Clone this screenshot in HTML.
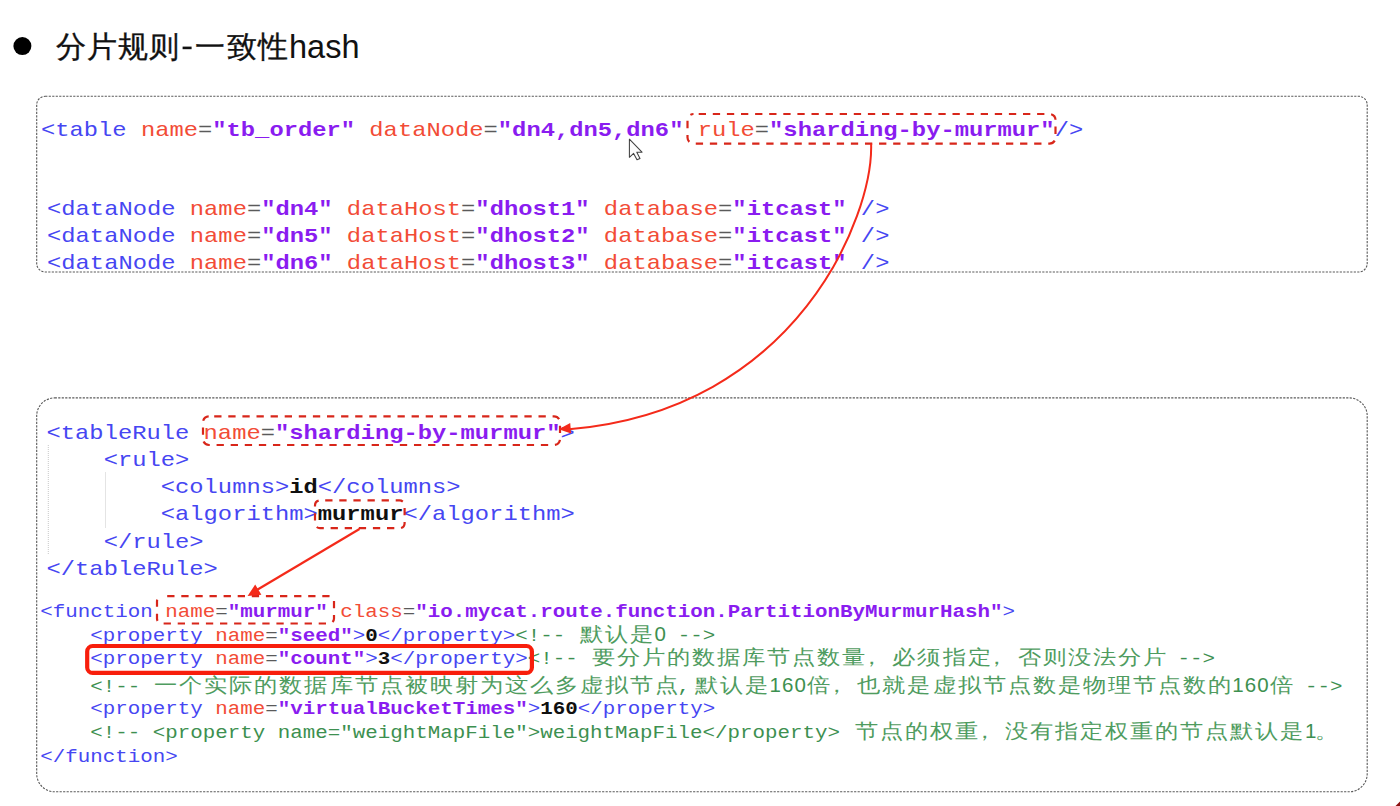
<!DOCTYPE html>
<html><head><meta charset="utf-8"><style>
html,body{margin:0;padding:0;background:#fff;width:1400px;height:806px;overflow:hidden}
svg{position:absolute;left:0;top:0}
.c1{font-family:"Liberation Mono",monospace;font-size:23.8px}
.c2{font-family:"Liberation Mono",monospace;font-size:20.85px}
.cj{font-family:"Liberation Serif",serif;font-size:23px}
.dg{font-family:"Liberation Sans",sans-serif;font-size:20.5px}
.ttl{font-family:"Liberation Sans",sans-serif;font-size:30px;fill:#111;stroke:#111;stroke-width:0.35px}
</style></head><body>
<svg width="1400" height="806" viewBox="0 0 1400 806">
<circle cx="22.4" cy="46.1" r="9" fill="#000"/>
<text class="ttl" x="56" y="57.4" style="letter-spacing:1px">分片规则</text>
<rect x="182.6" y="46.6" width="9" height="2.6" fill="#111"/>
<text class="ttl" x="195.3" y="57.4" style="letter-spacing:1.3px">一致性</text>
<text class="ttl" x="289" y="57.6" style="font-size:32.5px;stroke-width:0">hash</text>
<text class="c1" x="40.95" y="135.90" transform="matrix(1 0 0 0.850 0 20.385)" xml:space="preserve"><tspan fill="#4646f2">&lt;table</tspan><tspan fill="#f24c36"> name</tspan><tspan fill="#5a5a5a">=</tspan><tspan fill="#8a1cf0" font-weight="bold">"tb_order"</tspan><tspan fill="#f24c36"> dataNode</tspan><tspan fill="#5a5a5a">=</tspan><tspan fill="#8a1cf0" font-weight="bold">"dn4,dn5,dn6"</tspan><tspan fill="#f24c36"> rule</tspan><tspan fill="#5a5a5a">=</tspan><tspan fill="#8a1cf0" font-weight="bold">"sharding-by-murmur"</tspan><tspan fill="#4646f2">/&gt;</tspan></text>

<text class="c1" x="47.05" y="214.60" transform="matrix(1 0 0 0.850 0 32.190)" xml:space="preserve"><tspan fill="#4646f2">&lt;dataNode</tspan><tspan fill="#f24c36"> name</tspan><tspan fill="#5a5a5a">=</tspan><tspan fill="#8a1cf0" font-weight="bold">"dn4"</tspan><tspan fill="#f24c36"> dataHost</tspan><tspan fill="#5a5a5a">=</tspan><tspan fill="#8a1cf0" font-weight="bold">"dhost1"</tspan><tspan fill="#f24c36"> database</tspan><tspan fill="#5a5a5a">=</tspan><tspan fill="#8a1cf0" font-weight="bold">"itcast"</tspan><tspan fill="#4646f2"> /&gt;</tspan></text>

<text class="c1" x="47.05" y="241.90" transform="matrix(1 0 0 0.850 0 36.285)" xml:space="preserve"><tspan fill="#4646f2">&lt;dataNode</tspan><tspan fill="#f24c36"> name</tspan><tspan fill="#5a5a5a">=</tspan><tspan fill="#8a1cf0" font-weight="bold">"dn5"</tspan><tspan fill="#f24c36"> dataHost</tspan><tspan fill="#5a5a5a">=</tspan><tspan fill="#8a1cf0" font-weight="bold">"dhost2"</tspan><tspan fill="#f24c36"> database</tspan><tspan fill="#5a5a5a">=</tspan><tspan fill="#8a1cf0" font-weight="bold">"itcast"</tspan><tspan fill="#4646f2"> /&gt;</tspan></text>

<text class="c1" x="47.05" y="269.20" transform="matrix(1 0 0 0.850 0 40.380)" xml:space="preserve"><tspan fill="#4646f2">&lt;dataNode</tspan><tspan fill="#f24c36"> name</tspan><tspan fill="#5a5a5a">=</tspan><tspan fill="#8a1cf0" font-weight="bold">"dn6"</tspan><tspan fill="#f24c36"> dataHost</tspan><tspan fill="#5a5a5a">=</tspan><tspan fill="#8a1cf0" font-weight="bold">"dhost3"</tspan><tspan fill="#f24c36"> database</tspan><tspan fill="#5a5a5a">=</tspan><tspan fill="#8a1cf0" font-weight="bold">"itcast"</tspan><tspan fill="#4646f2"> /&gt;</tspan></text>

<text class="c1" x="46.55" y="438.80" transform="matrix(1 0 0 0.850 0 65.820)" xml:space="preserve"><tspan fill="#4646f2">&lt;tableRule</tspan><tspan fill="#f24c36"> name</tspan><tspan fill="#5a5a5a">=</tspan><tspan fill="#8a1cf0" font-weight="bold">"sharding-by-murmur"</tspan><tspan fill="#4646f2">&gt;</tspan></text>

<text class="c1" x="46.55" y="466.00" transform="matrix(1 0 0 0.850 0 69.900)" xml:space="preserve"><tspan fill="#4646f2">    &lt;rule&gt;</tspan></text>

<text class="c1" x="46.55" y="493.20" transform="matrix(1 0 0 0.850 0 73.980)" xml:space="preserve"><tspan fill="#4646f2">        &lt;columns&gt;</tspan><tspan fill="#101010" font-weight="bold">id</tspan><tspan fill="#4646f2">&lt;/columns&gt;</tspan></text>

<text class="c1" x="46.55" y="520.40" transform="matrix(1 0 0 0.850 0 78.060)" xml:space="preserve"><tspan fill="#4646f2">        &lt;algorithm&gt;</tspan><tspan fill="#101010" font-weight="bold">murmur</tspan><tspan fill="#4646f2">&lt;/algorithm&gt;</tspan></text>

<text class="c1" x="46.55" y="547.60" transform="matrix(1 0 0 0.850 0 82.140)" xml:space="preserve"><tspan fill="#4646f2">    &lt;/rule&gt;</tspan></text>

<text class="c1" x="46.55" y="574.80" transform="matrix(1 0 0 0.850 0 86.220)" xml:space="preserve"><tspan fill="#4646f2">&lt;/tableRule&gt;</tspan></text>

<text class="c2" x="40.20" y="617.10" transform="matrix(1 0 0 0.850 0 92.565)" xml:space="preserve"><tspan fill="#4646f2">&lt;function</tspan><tspan fill="#f24c36"> name</tspan><tspan fill="#5a5a5a">=</tspan><tspan fill="#8a1cf0" font-weight="bold">"murmur"</tspan><tspan fill="#f24c36"> class</tspan><tspan fill="#5a5a5a">=</tspan><tspan fill="#8a1cf0" font-weight="bold">"io.mycat.route.function.PartitionByMurmurHash"</tspan><tspan fill="#4646f2">&gt;</tspan></text>

<text class="c2" x="40.20" y="640.90" transform="matrix(1 0 0 0.850 0 96.135)" xml:space="preserve"><tspan fill="#4646f2">    &lt;property</tspan><tspan fill="#f24c36"> name</tspan><tspan fill="#5a5a5a">=</tspan><tspan fill="#8a1cf0" font-weight="bold">"seed"</tspan><tspan fill="#4646f2">&gt;</tspan><tspan fill="#101010" font-weight="bold">0</tspan><tspan fill="#4646f2">&lt;/property&gt;</tspan><tspan fill="#3d9050">&lt;!--         --&gt;</tspan></text>
<text class="cj" x="579.73" y="640.90" fill="#4f9c60" transform="matrix(1 0 0 0.860 0 89.726)">默</text>
<text class="cj" x="604.75" y="640.90" fill="#4f9c60" transform="matrix(1 0 0 0.860 0 89.726)">认</text>
<text class="cj" x="629.77" y="640.90" fill="#4f9c60" transform="matrix(1 0 0 0.860 0 89.726)">是</text>
<text class="dg" x="654.39" y="640.90" fill="#3d9050">0</text>
<text class="c2" x="40.20" y="664.50" transform="matrix(1 0 0 0.850 0 99.675)" xml:space="preserve"><tspan fill="#4646f2">    &lt;property</tspan><tspan fill="#f24c36"> name</tspan><tspan fill="#5a5a5a">=</tspan><tspan fill="#8a1cf0" font-weight="bold">"count"</tspan><tspan fill="#4646f2">&gt;</tspan><tspan fill="#101010" font-weight="bold">3</tspan><tspan fill="#4646f2">&lt;/property&gt;</tspan><tspan fill="#3d9050">&lt;!--                                                --&gt;</tspan></text>
<text class="cj" x="592.24" y="664.50" fill="#4f9c60" transform="matrix(1 0 0 0.860 0 93.030)">要</text>
<text class="cj" x="617.26" y="664.50" fill="#4f9c60" transform="matrix(1 0 0 0.860 0 93.030)">分</text>
<text class="cj" x="642.28" y="664.50" fill="#4f9c60" transform="matrix(1 0 0 0.860 0 93.030)">片</text>
<text class="cj" x="667.30" y="664.50" fill="#4f9c60" transform="matrix(1 0 0 0.860 0 93.030)">的</text>
<text class="cj" x="692.32" y="664.50" fill="#4f9c60" transform="matrix(1 0 0 0.860 0 93.030)">数</text>
<text class="cj" x="717.34" y="664.50" fill="#4f9c60" transform="matrix(1 0 0 0.860 0 93.030)">据</text>
<text class="cj" x="742.36" y="664.50" fill="#4f9c60" transform="matrix(1 0 0 0.860 0 93.030)">库</text>
<text class="cj" x="767.38" y="664.50" fill="#4f9c60" transform="matrix(1 0 0 0.860 0 93.030)">节</text>
<text class="cj" x="792.40" y="664.50" fill="#4f9c60" transform="matrix(1 0 0 0.860 0 93.030)">点</text>
<text class="cj" x="817.42" y="664.50" fill="#4f9c60" transform="matrix(1 0 0 0.860 0 93.030)">数</text>
<text class="cj" x="842.44" y="664.50" fill="#4f9c60" transform="matrix(1 0 0 0.860 0 93.030)">量</text>
<text class="cj" x="859.96" y="664.50" fill="#4f9c60" transform="matrix(1 0 0 0.860 0 93.030)">，</text>
<text class="cj" x="892.48" y="664.50" fill="#4f9c60" transform="matrix(1 0 0 0.860 0 93.030)">必</text>
<text class="cj" x="917.50" y="664.50" fill="#4f9c60" transform="matrix(1 0 0 0.860 0 93.030)">须</text>
<text class="cj" x="942.52" y="664.50" fill="#4f9c60" transform="matrix(1 0 0 0.860 0 93.030)">指</text>
<text class="cj" x="967.54" y="664.50" fill="#4f9c60" transform="matrix(1 0 0 0.860 0 93.030)">定</text>
<text class="cj" x="985.06" y="664.50" fill="#4f9c60" transform="matrix(1 0 0 0.860 0 93.030)">，</text>
<text class="cj" x="1017.58" y="664.50" fill="#4f9c60" transform="matrix(1 0 0 0.860 0 93.030)">否</text>
<text class="cj" x="1042.60" y="664.50" fill="#4f9c60" transform="matrix(1 0 0 0.860 0 93.030)">则</text>
<text class="cj" x="1067.62" y="664.50" fill="#4f9c60" transform="matrix(1 0 0 0.860 0 93.030)">没</text>
<text class="cj" x="1092.64" y="664.50" fill="#4f9c60" transform="matrix(1 0 0 0.860 0 93.030)">法</text>
<text class="cj" x="1117.66" y="664.50" fill="#4f9c60" transform="matrix(1 0 0 0.860 0 93.030)">分</text>
<text class="cj" x="1142.68" y="664.50" fill="#4f9c60" transform="matrix(1 0 0 0.860 0 93.030)">片</text>
<text class="c2" x="40.20" y="691.60" transform="matrix(1 0 0 0.850 0 103.740)" xml:space="preserve"><tspan fill="#4646f2">    </tspan><tspan fill="#3d9050">&lt;!--                                           ,</tspan><tspan fill="#3d9050" dx="2.50">                                                 --&gt;</tspan></text>
<text class="cj" x="154.39" y="691.60" fill="#4f9c60" transform="matrix(1 0 0 0.860 0 96.824)">一</text>
<text class="cj" x="179.41" y="691.60" fill="#4f9c60" transform="matrix(1 0 0 0.860 0 96.824)">个</text>
<text class="cj" x="204.43" y="691.60" fill="#4f9c60" transform="matrix(1 0 0 0.860 0 96.824)">实</text>
<text class="cj" x="229.45" y="691.60" fill="#4f9c60" transform="matrix(1 0 0 0.860 0 96.824)">际</text>
<text class="cj" x="254.47" y="691.60" fill="#4f9c60" transform="matrix(1 0 0 0.860 0 96.824)">的</text>
<text class="cj" x="279.49" y="691.60" fill="#4f9c60" transform="matrix(1 0 0 0.860 0 96.824)">数</text>
<text class="cj" x="304.51" y="691.60" fill="#4f9c60" transform="matrix(1 0 0 0.860 0 96.824)">据</text>
<text class="cj" x="329.53" y="691.60" fill="#4f9c60" transform="matrix(1 0 0 0.860 0 96.824)">库</text>
<text class="cj" x="354.55" y="691.60" fill="#4f9c60" transform="matrix(1 0 0 0.860 0 96.824)">节</text>
<text class="cj" x="379.57" y="691.60" fill="#4f9c60" transform="matrix(1 0 0 0.860 0 96.824)">点</text>
<text class="cj" x="404.59" y="691.60" fill="#4f9c60" transform="matrix(1 0 0 0.860 0 96.824)">被</text>
<text class="cj" x="429.61" y="691.60" fill="#4f9c60" transform="matrix(1 0 0 0.860 0 96.824)">映</text>
<text class="cj" x="454.63" y="691.60" fill="#4f9c60" transform="matrix(1 0 0 0.860 0 96.824)">射</text>
<text class="cj" x="479.65" y="691.60" fill="#4f9c60" transform="matrix(1 0 0 0.860 0 96.824)">为</text>
<text class="cj" x="504.67" y="691.60" fill="#4f9c60" transform="matrix(1 0 0 0.860 0 96.824)">这</text>
<text class="cj" x="529.69" y="691.60" fill="#4f9c60" transform="matrix(1 0 0 0.860 0 96.824)">么</text>
<text class="cj" x="554.71" y="691.60" fill="#4f9c60" transform="matrix(1 0 0 0.860 0 96.824)">多</text>
<text class="cj" x="579.73" y="691.60" fill="#4f9c60" transform="matrix(1 0 0 0.860 0 96.824)">虚</text>
<text class="cj" x="604.75" y="691.60" fill="#4f9c60" transform="matrix(1 0 0 0.860 0 96.824)">拟</text>
<text class="cj" x="629.77" y="691.60" fill="#4f9c60" transform="matrix(1 0 0 0.860 0 96.824)">节</text>
<text class="cj" x="654.79" y="691.60" fill="#4f9c60" transform="matrix(1 0 0 0.860 0 96.824)">点</text>
<text class="cj" x="694.82" y="691.60" fill="#4f9c60" transform="matrix(1 0 0 0.860 0 96.824)">默</text>
<text class="cj" x="719.84" y="691.60" fill="#4f9c60" transform="matrix(1 0 0 0.860 0 96.824)">认</text>
<text class="cj" x="744.86" y="691.60" fill="#4f9c60" transform="matrix(1 0 0 0.860 0 96.824)">是</text>
<text class="dg" x="769.48" y="691.60" fill="#3d9050">1</text>
<text class="dg" x="781.99" y="691.60" fill="#3d9050">6</text>
<text class="dg" x="794.50" y="691.60" fill="#3d9050">0</text>
<text class="cj" x="807.41" y="691.60" fill="#4f9c60" transform="matrix(1 0 0 0.860 0 96.824)">倍</text>
<text class="cj" x="824.93" y="691.60" fill="#4f9c60" transform="matrix(1 0 0 0.860 0 96.824)">，</text>
<text class="cj" x="857.45" y="691.60" fill="#4f9c60" transform="matrix(1 0 0 0.860 0 96.824)">也</text>
<text class="cj" x="882.47" y="691.60" fill="#4f9c60" transform="matrix(1 0 0 0.860 0 96.824)">就</text>
<text class="cj" x="907.49" y="691.60" fill="#4f9c60" transform="matrix(1 0 0 0.860 0 96.824)">是</text>
<text class="cj" x="932.51" y="691.60" fill="#4f9c60" transform="matrix(1 0 0 0.860 0 96.824)">虚</text>
<text class="cj" x="957.53" y="691.60" fill="#4f9c60" transform="matrix(1 0 0 0.860 0 96.824)">拟</text>
<text class="cj" x="982.55" y="691.60" fill="#4f9c60" transform="matrix(1 0 0 0.860 0 96.824)">节</text>
<text class="cj" x="1007.57" y="691.60" fill="#4f9c60" transform="matrix(1 0 0 0.860 0 96.824)">点</text>
<text class="cj" x="1032.59" y="691.60" fill="#4f9c60" transform="matrix(1 0 0 0.860 0 96.824)">数</text>
<text class="cj" x="1057.61" y="691.60" fill="#4f9c60" transform="matrix(1 0 0 0.860 0 96.824)">是</text>
<text class="cj" x="1082.63" y="691.60" fill="#4f9c60" transform="matrix(1 0 0 0.860 0 96.824)">物</text>
<text class="cj" x="1107.65" y="691.60" fill="#4f9c60" transform="matrix(1 0 0 0.860 0 96.824)">理</text>
<text class="cj" x="1132.67" y="691.60" fill="#4f9c60" transform="matrix(1 0 0 0.860 0 96.824)">节</text>
<text class="cj" x="1157.69" y="691.60" fill="#4f9c60" transform="matrix(1 0 0 0.860 0 96.824)">点</text>
<text class="cj" x="1182.71" y="691.60" fill="#4f9c60" transform="matrix(1 0 0 0.860 0 96.824)">数</text>
<text class="cj" x="1207.73" y="691.60" fill="#4f9c60" transform="matrix(1 0 0 0.860 0 96.824)">的</text>
<text class="dg" x="1232.35" y="691.60" fill="#3d9050">1</text>
<text class="dg" x="1244.86" y="691.60" fill="#3d9050">6</text>
<text class="dg" x="1257.37" y="691.60" fill="#3d9050">0</text>
<text class="cj" x="1270.28" y="691.60" fill="#4f9c60" transform="matrix(1 0 0 0.860 0 96.824)">倍</text>
<text class="c2" x="40.20" y="714.50" transform="matrix(1 0 0 0.850 0 107.175)" xml:space="preserve"><tspan fill="#4646f2">    &lt;property</tspan><tspan fill="#f24c36"> name</tspan><tspan fill="#5a5a5a">=</tspan><tspan fill="#8a1cf0" font-weight="bold">"virtualBucketTimes"</tspan><tspan fill="#4646f2">&gt;</tspan><tspan fill="#101010" font-weight="bold">160</tspan><tspan fill="#4646f2">&lt;/property&gt;</tspan></text>

<text class="c2" x="40.20" y="738.00" transform="matrix(1 0 0 0.850 0 110.700)" xml:space="preserve"><tspan fill="#4646f2">    </tspan><tspan fill="#3d9050">&lt;!-- &lt;property name="weightMapFile"&gt;weightMapFile&lt;/property&gt;                                        </tspan></text>
<text class="cj" x="854.95" y="738.00" fill="#4f9c60" transform="matrix(1 0 0 0.860 0 103.320)">节</text>
<text class="cj" x="879.97" y="738.00" fill="#4f9c60" transform="matrix(1 0 0 0.860 0 103.320)">点</text>
<text class="cj" x="904.99" y="738.00" fill="#4f9c60" transform="matrix(1 0 0 0.860 0 103.320)">的</text>
<text class="cj" x="930.01" y="738.00" fill="#4f9c60" transform="matrix(1 0 0 0.860 0 103.320)">权</text>
<text class="cj" x="955.03" y="738.00" fill="#4f9c60" transform="matrix(1 0 0 0.860 0 103.320)">重</text>
<text class="cj" x="972.55" y="738.00" fill="#4f9c60" transform="matrix(1 0 0 0.860 0 103.320)">，</text>
<text class="cj" x="1005.07" y="738.00" fill="#4f9c60" transform="matrix(1 0 0 0.860 0 103.320)">没</text>
<text class="cj" x="1030.09" y="738.00" fill="#4f9c60" transform="matrix(1 0 0 0.860 0 103.320)">有</text>
<text class="cj" x="1055.11" y="738.00" fill="#4f9c60" transform="matrix(1 0 0 0.860 0 103.320)">指</text>
<text class="cj" x="1080.13" y="738.00" fill="#4f9c60" transform="matrix(1 0 0 0.860 0 103.320)">定</text>
<text class="cj" x="1105.15" y="738.00" fill="#4f9c60" transform="matrix(1 0 0 0.860 0 103.320)">权</text>
<text class="cj" x="1130.17" y="738.00" fill="#4f9c60" transform="matrix(1 0 0 0.860 0 103.320)">重</text>
<text class="cj" x="1155.19" y="738.00" fill="#4f9c60" transform="matrix(1 0 0 0.860 0 103.320)">的</text>
<text class="cj" x="1180.21" y="738.00" fill="#4f9c60" transform="matrix(1 0 0 0.860 0 103.320)">节</text>
<text class="cj" x="1205.23" y="738.00" fill="#4f9c60" transform="matrix(1 0 0 0.860 0 103.320)">点</text>
<text class="cj" x="1230.25" y="738.00" fill="#4f9c60" transform="matrix(1 0 0 0.860 0 103.320)">默</text>
<text class="cj" x="1255.27" y="738.00" fill="#4f9c60" transform="matrix(1 0 0 0.860 0 103.320)">认</text>
<text class="cj" x="1280.29" y="738.00" fill="#4f9c60" transform="matrix(1 0 0 0.860 0 103.320)">是</text>
<text class="dg" x="1304.91" y="738.00" fill="#3d9050">1</text>
<text class="cj" x="1315.32" y="738.00" fill="#4f9c60" transform="matrix(1 0 0 0.860 0 103.320)">。</text>
<text class="c2" x="40.20" y="761.70" transform="matrix(1 0 0 0.850 0 114.255)" xml:space="preserve"><tspan fill="#4646f2">&lt;/function&gt;</tspan></text>


<rect x="36.7" y="96.3" width="1330.5" height="175.7" rx="8.5" fill="none" stroke="#5a5a5a" stroke-width="1.1" stroke-dasharray="2.2 1.3"/>
<rect x="36.7" y="397.9" width="1330.5" height="393.9" rx="18" fill="none" stroke="#5a5a5a" stroke-width="1.1" stroke-dasharray="2.2 1.3"/>
<line x1="48.3" y1="445" x2="48.3" y2="554" stroke="#c8c8c8" stroke-width="1" stroke-dasharray="1 1"/>
<line x1="105.5" y1="472.5" x2="105.5" y2="528" stroke="#c8c8c8" stroke-width="1" stroke-dasharray="1 1"/>
<g fill="none" stroke="#d8261a" stroke-width="2.2" stroke-dasharray="7.3 6.8" stroke-dashoffset="-5.2">
<rect x="687.5" y="114" width="368" height="29.6" rx="6"/>
<rect x="203" y="416.3" width="357" height="28.7" rx="6"/>
<rect x="315" y="500.4" width="89.6" height="27.8" rx="5"/>
<rect x="157" y="596.2" width="177" height="27.3" rx="5"/>
</g>
<rect x="87.2" y="646" width="444.7" height="26.9" rx="5.5" fill="none" stroke="#f81e0c" stroke-width="4.2"/>
<path d="M871.1,143.5 C873.5,215.7 797.2,410.4 569,429.2" fill="none" stroke="#f42a1a" stroke-width="2"/>
<path d="M558.7,429.3 L570.2,423.1 L571.1,433.6 Z" fill="#f42a1a"/>
<path d="M359.5,529 L256,590.5" fill="none" stroke="#f42a1a" stroke-width="2.2"/>
<path d="M247.6,596.0 L255.2,584.4 L261.4,594.7 Z" fill="#f42a1a"/>
<path d="M629.4,139.2 L629.4,157.3 L633.6,153.4 L637,159.8 L640,158.4 L636.8,152.2 L642,152.2 Z" fill="#fcfcfc" stroke="#404040" stroke-width="1.05" stroke-linejoin="round"/>
<path d="M1400,801.5 L1400,806 L1395.5,806 Z" fill="#8b1010"/>

</svg>
</body></html>
